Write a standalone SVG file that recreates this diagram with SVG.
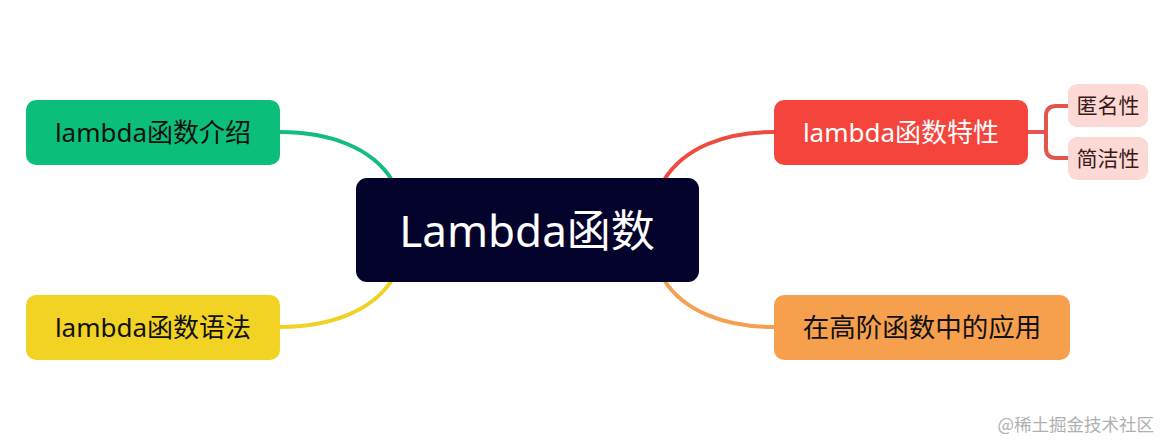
<svg xmlns="http://www.w3.org/2000/svg" width="1163" height="445" viewBox="0 0 1163 445">
<style>
.t{font-family:"Noto Sans","Noto Sans CJK SC",sans-serif;text-anchor:middle;dominant-baseline:central}
.c{fill:none;stroke-width:4;stroke-linecap:round}
</style>
<rect width="1163" height="445" fill="#ffffff"/>
<g id="connectors">
<path class="c" stroke="#14bd7e" d="M280,132 C330,132 372,148 392,180"/>
<path class="c" stroke="#f0d125" d="M280,327 C330,327 372,311 392,280"/>
<path class="c" stroke="#ee4b3f" d="M774,132 C724,132 684,148 664,180"/>
<path class="c" stroke="#f3a050" d="M774,327 C724,327 684,311 664,280"/>
<path class="c" stroke="#e2554c" stroke-width="3" d="M1028,132 H1046 M1068,106 H1056 Q1046,106 1046,116 V148 Q1046,158 1056,158 H1068"/>
</g>
<g id="center">
<rect x="356" y="178" width="343" height="104" rx="11" fill="#03032b"/>
<text class="t" x="527" y="230" font-size="44" fill="#ffffff">Lambda函数</text>
</g>
<g id="intro">
<rect x="26" y="100" width="254" height="65" rx="10" fill="#0bbf7b"/>
<text class="t" x="153" y="132" font-size="26" fill="#111111">lambda函数介绍</text>
</g>
<g id="syntax">
<rect x="26" y="295" width="254" height="65" rx="10" fill="#f2d323"/>
<text class="t" x="153" y="327" font-size="26" fill="#111111">lambda函数语法</text>
</g>
<g id="features">
<rect x="774" y="100" width="254" height="65" rx="10" fill="#f5443b"/>
<text class="t" x="901" y="132" font-size="26" fill="#ffffff">lambda函数特性</text>
</g>
<g id="anon">
<rect x="1068" y="84" width="80" height="43" rx="9" fill="#fcd9d4"/>
<text class="t" x="1108" y="105" font-size="21" fill="#3a1a1a">匿名性</text>
</g>
<g id="concise">
<rect x="1068" y="137" width="80" height="43" rx="9" fill="#fcd9d4"/>
<text class="t" x="1108" y="158" font-size="21" fill="#3a1a1a">简洁性</text>
</g>
<g id="apply">
<rect x="774" y="295" width="296" height="65" rx="10" fill="#f6a04d"/>
<text class="t" x="922" y="327" font-size="26.5" fill="#111111">在高阶函数中的应用</text>
</g>
<text x="1154" y="431" font-family="Noto Sans CJK SC,sans-serif" font-size="17.5" fill="#b0b0b0" text-anchor="end">@稀土掘金技术社区</text>
</svg>
